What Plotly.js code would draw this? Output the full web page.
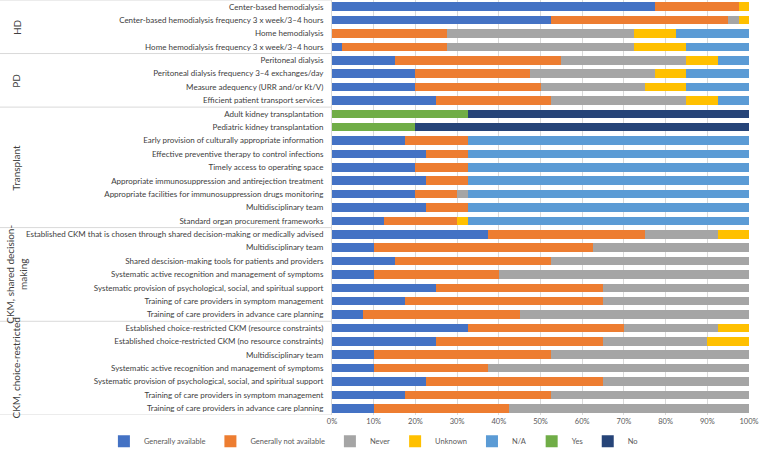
<!DOCTYPE html>
<html><head><meta charset="utf-8">
<script src="https://cdn.plot.ly/plotly-3.0.1.min.js"></script>
<style>html,body{margin:0;padding:0;background:#fff}#chart{width:759px;height:450px}</style>
</head><body><div id="chart"></div>
<script>
const groups = ['HD', 'PD', 'Transplant', 'CKM, shared decision-<br>making', 'CKM, choice-restricted'];
const groupSizes = [4, 4, 9, 7, 7];
const items = [
  'Center-based hemodialysis',
  'Center-based hemodialysis frequency 3 x week/3–4 hours',
  'Home hemodialysis',
  'Home hemodialysis frequency 3 x week/3–4 hours',
  'Peritoneal dialysis',
  'Peritoneal dialysis frequency 3–4 exchanges/day',
  'Measure adequency (URR and/or Kt/V)',
  'Efficient patient transport services',
  'Adult kidney transplantation',
  'Pediatric kidney transplantation',
  'Early provision of culturally appropriate information',
  'Effective preventive therapy to control infections',
  'Timely access to operating space',
  'Appropriate immunosuppression and antirejection treatment',
  'Appropriate facilities for immunosuppression drugs monitoring',
  'Multidisciplinary team',
  'Standard organ procurement frameworks',
  'Established CKM that is chosen through shared decision-making or medically advised',
  'Multidisciplinary team',
  'Shared descision-making tools for patients and providers',
  'Systematic active recognition and management of symptoms',
  'Systematic provision of psychological, social, and spiritual support',
  'Training of care providers in symptom management',
  'Training of care providers in advance care planning',
  'Established choice-restricted CKM (resource constraints)',
  'Established choice-restricted CKM (no resource constraints)',
  'Multidisciplinary team',
  'Systematic active recognition and management of symptoms',
  'Systematic provision of psychological, social, and spiritual support',
  'Training of care providers in symptom management',
  'Training of care providers in advance care planning'
];
const generallyAvailable = [77.5,52.5,0,2.5, 15,20,20,25, 0,0,17.5,22.5,20,22.5,20,22.5,12.5, 37.5,10,15,10,25,17.5,7.5, 32.5,25,10,10,22.5,17.5,10];
const generallyNotAvailable = [20,42.5,27.5,25, 40,27.5,30,27.5, 0,0,15,10,12.5,10,10,10,17.5, 37.5,52.5,37.5,30,40,47.5,37.5, 37.5,40,42.5,27.5,42.5,35,32.5];
const never = [0,2.5,45,45, 30,30,25,32.5, 0,0,0,0,0,0,2.5,0,0, 17.5,37.5,47.5,60,35,35,55, 22.5,25,47.5,62.5,35,47.5,57.5];
const unknown = [2.5,2.5,10,12.5, 7.5,7.5,10,7.5, 0,0,0,0,0,0,0,0,2.5, 7.5,0,0,0,0,0,0, 7.5,10,0,0,0,0,0];
const notApplicable = [0,0,17.5,15, 7.5,15,15,7.5, 0,0,67.5,67.5,67.5,67.5,67.5,67.5,67.5, 0,0,0,0,0,0,0, 0,0,0,0,0,0,0];
const yes = [0,0,0,0, 0,0,0,0, 32.5,20,0,0,0,0,0,0,0, 0,0,0,0,0,0,0, 0,0,0,0,0,0,0];
const no = [0,0,0,0, 0,0,0,0, 67.5,80,0,0,0,0,0,0,0, 0,0,0,0,0,0,0, 0,0,0,0,0,0,0];
const seriesNames = ['Generally available','Generally not available','Never','Unknown','N/A','Yes','No'];
const seriesColors = ['#4472C4','#ED7D31','#A5A5A5','#FFC000','#5B9BD5','#70AD47','#264478'];
const seriesValues = [generallyAvailable, generallyNotAvailable, never, unknown, notApplicable, yes, no];
const xTicks = [0,10,20,30,40,50,60,70,80,90,100];

const FONT = 'Lato, "Open Sans", sans-serif';
const yIdx = items.map((_, i) => i);
const traces = seriesNames.map((n, k) => ({
  type: 'bar', orientation: 'h', name: n,
  x: seriesValues[k], y: yIdx,
  marker: {color: seriesColors[k], line: {width: 0}},
  hoverinfo: 'x+name'
}));

const shapes = [];
const annotations = [];
let start = 0;
const bounds = [-0.5];
groupSizes.forEach((s, gi) => {
  const end = start + s;
  bounds.push(end - 0.5);
  annotations.push({
    xref: 'paper', yref: 'y', x: -0.757, y: (start + end - 1) / 2,
    text: groups[gi], showarrow: false, textangle: -90,
    font: {family: FONT, size: 10, color: '#404040'}, xanchor: 'center', yanchor: 'middle'
  });
  start = end;
});
bounds.forEach(b => shapes.push({
  type: 'line', xref: 'paper', yref: 'y', x0: -0.797, x1: 0, y0: b, y1: b,
  line: {color: '#D9D9D9', width: 1}
}));

Plotly.newPlot('chart', traces, {
  width: 759, height: 450,
  margin: {l: 332, r: 10, t: 0, b: 35, autoexpand: false},
  barmode: 'stack', bargap: 0.36,
  paper_bgcolor: '#fff', plot_bgcolor: '#fff',
  font: {family: FONT, size: 8, color: '#404040'},
  xaxis: {range: [0, 100], tickvals: xTicks, ticktext: xTicks.map(v => v + '%'),
          showgrid: true, gridcolor: '#D9D9D9', gridwidth: 1, zeroline: false,
          showline: false, ticks: '', tickfont: {size: 7.5, color: '#595959'}, fixedrange: true, automargin: false},
  yaxis: {range: [items.length - 0.5, -0.5], tickvals: yIdx, ticktext: items,
          showgrid: false, zeroline: false, showline: true, linecolor: '#D9D9D9',
          ticks: '', ticklabelstandoff: 6, tickfont: {size: 8, color: '#404040'}, fixedrange: true, automargin: false},
  showlegend: true,
  legend: {orientation: 'h', xref: 'paper', yref: 'paper', x: -0.547, xanchor: 'left',
           y: -0.063, yanchor: 'middle', font: {size: 7.5, color: '#595959'},
           bgcolor: 'rgba(0,0,0,0)', itemwidth: 30, traceorder: 'normal', tracegroupgap: 0},
  shapes: shapes,
  annotations: annotations
}, {displayModeBar: false, staticPlot: true});
</script></body></html>
